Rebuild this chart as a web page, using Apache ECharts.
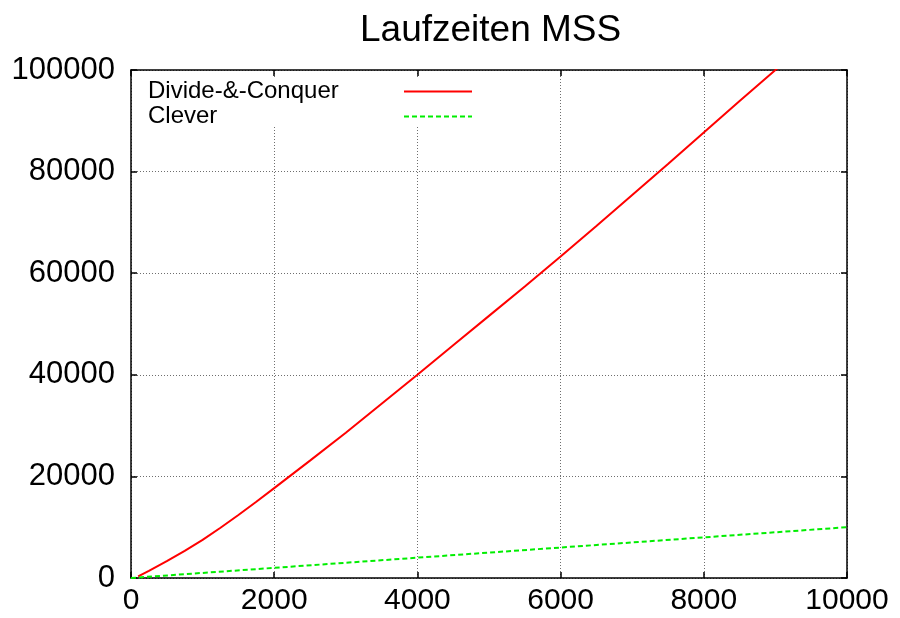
<!DOCTYPE html>
<html>
<head>
<meta charset="utf-8">
<script src="https://cdn.jsdelivr.net/npm/echarts@6/dist/echarts.min.js"></script>
<style>
  html, body { margin: 0; padding: 0; background: #fff; }
  #chart { width: 900px; height: 618px; }
</style>
</head>
<body>
<div id="chart"></div>
<script>
// Runtime of the two maximum-subsequence-sum algorithms over input size n
const titleText = 'Laufzeiten MSS';
const seriesNames = ['Divide-&-Conquer', 'Clever'];

// Divide-&-Conquer: input size and measured runtime
const dcSizes = [100, 250, 500, 750, 1000, 1250, 1500, 1750, 2000, 2500, 3000, 3500, 4000, 4500, 5000,
                 5500, 6000, 6500, 7000, 7500, 8000, 8500, 9000, 9500, 10000];
const dcTimes = [300, 1400, 3300, 5350, 7500, 9900, 12400, 15000, 17700, 23100, 28600, 34300, 40000, 45800, 51600,
                 57400, 63300, 69300, 75400, 81500, 87700, 93900, 100000, 106300, 112600];

// Clever (linear scan): input size and measured runtime
const clSizes = [0, 1000, 2000, 3000, 4000, 5000, 6000, 7000, 8000, 9000, 10000];
const clTimes = [0, 1000, 2000, 3000, 4000, 5000, 6000, 7000, 8000, 9000, 10000];

// Axis ranges and tick spacing
const xRange = [0, 10000];
const xStep = 2000;
const yRange = [0, 100000];
const yStep = 20000;

const pairs = (xs, ys) => xs.map((x, i) => [x, ys[i]]);
const plainNumber = v => String(v);

const FONT = '"Liberation Sans", Arial, Helvetica, sans-serif';
const borderLine = { show: true, onZero: false, lineStyle: { color: '#000', width: 1.5 } };
const innerTicks = { show: true, inside: true, length: 6, lineStyle: { color: '#000', width: 1.5 } };
const dottedGrid = { show: true, lineStyle: { color: '#6e6e6e', width: 1, type: [1, 2] } };

const chart = echarts.init(document.getElementById('chart'), null, { renderer: 'canvas' });

chart.setOption({
  animation: false,
  backgroundColor: '#ffffff',
  title: {
    text: titleText,
    left: 355,
    top: 7,
    textStyle: { fontFamily: FONT, fontSize: 37, fontWeight: 'normal', color: '#000' }
  },
  grid: { left: 131, right: 53, top: 70, bottom: 40, containLabel: false },
  legend: {
    orient: 'vertical',
    left: 143,
    top: 74,
    align: 'right',
    itemGap: 0,
    itemWidth: 68,
    itemHeight: 14,
    data: seriesNames,
    itemStyle: { opacity: 0 },
    formatter: name => '{k|' + name + '}',
    textStyle: {
      fontFamily: FONT, fontSize: 24, color: '#000', lineHeight: 25,
      rich: { k: { width: 251, align: 'left', fontFamily: FONT, fontSize: 24, color: '#000', lineHeight: 25 } }
    }
  },
  xAxis: [
    {
      type: 'value', position: 'bottom', min: xRange[0], max: xRange[1], interval: xStep,
      axisLine: borderLine, axisTick: innerTicks, splitLine: dottedGrid,
      axisLabel: { fontFamily: FONT, fontSize: 30, color: '#000', margin: 8, formatter: plainNumber }
    },
    {
      type: 'value', position: 'top', min: xRange[0], max: xRange[1], interval: xStep,
      axisLine: borderLine, axisTick: innerTicks, splitLine: { show: false },
      axisLabel: { show: false }
    }
  ],
  yAxis: [
    {
      type: 'value', position: 'left', min: yRange[0], max: yRange[1], interval: yStep,
      axisLine: borderLine, axisTick: innerTicks, splitLine: dottedGrid,
      axisLabel: { fontFamily: FONT, fontSize: 31, color: '#000', margin: 16, formatter: plainNumber }
    },
    {
      type: 'value', position: 'right', min: yRange[0], max: yRange[1], interval: yStep,
      axisLine: borderLine, axisTick: innerTicks, splitLine: { show: false },
      axisLabel: { show: false }
    }
  ],
  // blank key area: the grid is not drawn behind the legend entries
  graphic: [{
    type: 'rect', z: 1, silent: true,
    shape: { x: 133, y: 77, width: 347, height: 50 },
    style: { fill: '#fff' }
  }],
  series: [
    {
      name: seriesNames[0], type: 'line', xAxisIndex: 0, yAxisIndex: 0, z: 3,
      data: pairs(dcSizes, dcTimes), symbol: 'none', clip: true,
      lineStyle: { color: '#ff0000', width: 2 }, itemStyle: { color: '#ff0000' }
    },
    {
      name: seriesNames[1], type: 'line', xAxisIndex: 0, yAxisIndex: 0, z: 3,
      data: pairs(clSizes, clTimes), symbol: 'none', clip: true,
      lineStyle: { color: '#00ee00', width: 2, type: [5, 3] }, itemStyle: { color: '#00ee00' }
    }
  ]
});
</script>
</body>
</html>
